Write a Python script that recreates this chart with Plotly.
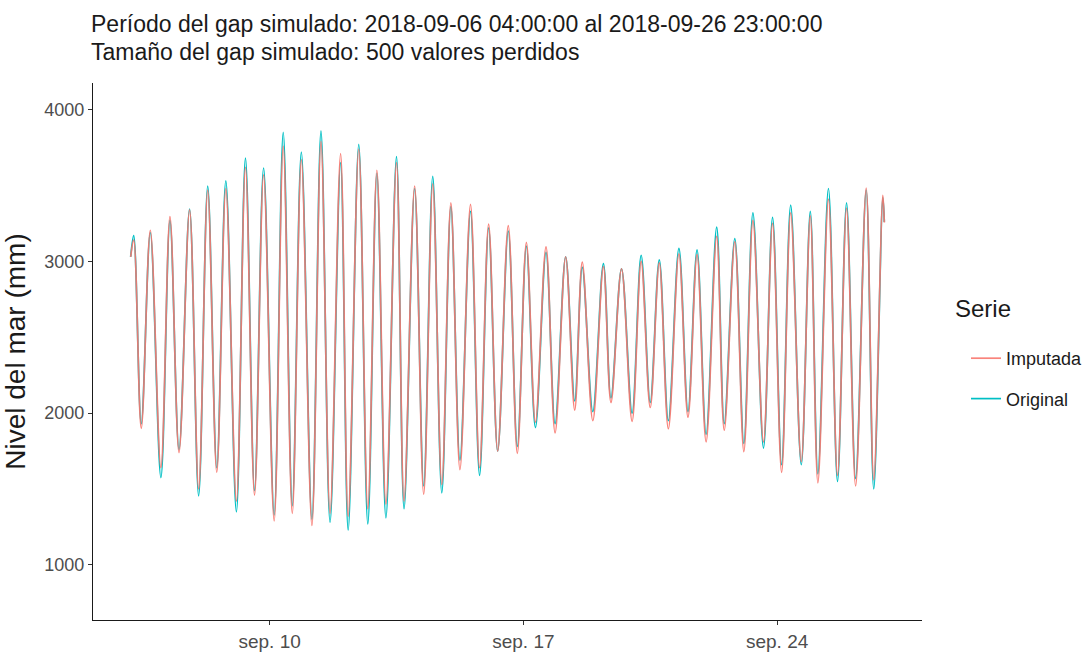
import pandas as pd
import plotly.graph_objects as go

# Hourly offsets (from 2018-09-06 04:00) of each high / low water turning point
horas = [0, 2, 7, 13, 20, 26, 32, 39, 45, 51, 57, 63, 70, 76, 82, 88, 95,
         101, 107, 113, 120, 126, 132, 139, 144, 151, 157, 163, 169, 176, 181,
         188, 194, 200, 206, 212, 218, 225, 231, 237, 243, 250, 256, 262, 268,
         275, 281, 288, 294, 299, 306, 313, 318, 325, 332, 338, 344, 350, 356,
         363, 369, 375, 381, 388, 393, 400, 406, 412, 419, 425, 431, 437, 444,
         450, 455, 462, 468, 474, 480, 487, 492, 498, 499]

# Sea level (mm) of the observed series
original = [3030, 3170, 1930, 3190, 1575, 3270, 1760, 3345, 1455, 3495, 1640,
            3530, 1350, 3680, 1490, 3615, 1330, 3850, 1390, 3720, 1300, 3860,
            1280, 3650, 1230, 3770, 1270, 3580, 1310, 3690, 1370, 3480, 1520,
            3560, 1475, 3360, 1690, 3330, 1590, 3220, 1750, 3200, 1780, 3100,
            1905, 3060, 1930, 3030, 2080, 2960, 2010, 2985, 2100, 2950, 2000,
            3040, 2070, 3010, 1950, 3085, 2010, 3075, 1860, 3225, 1930, 3150,
            1800, 3320, 1770, 3290, 1660, 3370, 1660, 3330, 1600, 3480, 1550,
            3385, 1570, 3470, 1500, 3420, 3260]

# Sea level (mm) of the imputed series
imputada = [3030, 3140, 1900, 3205, 1640, 3295, 1740, 3340, 1500, 3470, 1610,
            3480, 1420, 3620, 1460, 3570, 1290, 3760, 1340, 3670, 1260, 3790,
            1340, 3710, 1320, 3740, 1370, 3600, 1400, 3650, 1420, 3495, 1465,
            3510, 1530, 3385, 1627, 3375, 1640, 3245, 1750, 3235, 1735, 3125,
            1940, 3095, 1870, 3030, 2020, 2995, 1950, 2965, 2070, 2950, 1946,
            3000, 2037, 2990, 1897, 3050, 1973, 3045, 1811, 3165, 1887, 3130,
            1746, 3270, 1810, 3250, 1610, 3320, 1680, 3300, 1541, 3410, 1590,
            3350, 1520, 3482, 1560, 3435, 3256]

inicio = pd.Timestamp("2018-09-06 04:00:00")
fin = pd.Timestamp("2018-09-26 23:00:00")
fechas = inicio + pd.to_timedelta(horas, unit="h")

tick_fechas = ["2018-09-10", "2018-09-17", "2018-09-24"]
tick_textos = ["sep. 10", "sep. 17", "sep. 24"]

titulo_1 = "Período del gap simulado: 2018-09-06 04:00:00 al 2018-09-26 23:00:00"
titulo_2 = "Tamaño del gap simulado: 500 valores perdidos"

FONT = "Liberation Sans, Arial, sans-serif"
COL_IMP = "#F8766D"
COL_ORI = "#00BFC4"

W, H = 1090, 664
M_L, M_R, M_T, M_B = 93, 168, 83, 35
PW, PH = W - M_L - M_R, H - M_T - M_B


def px_x(x):
    return (x - M_L) / PW


def px_y(y):
    return 1 - (y - M_T) / PH


fig = go.Figure()
fig.add_trace(go.Scatter(
    x=fechas, y=original, mode="lines", name="Original",
    line=dict(color=COL_ORI, width=1.7, shape="spline"),
    legendgroup="o", legendrank=2,
))
fig.add_trace(go.Scatter(
    x=fechas, y=imputada, mode="lines", name="Imputada",
    line=dict(color=COL_IMP, width=1.7, shape="spline"), opacity=0.9,
    legendgroup="i", legendrank=1,
))

# Two-line heading, left aligned above the panel
for texto, y_top in [(titulo_1, 8), (titulo_2, 36)]:
    fig.add_annotation(
        text=texto, showarrow=False, xref="paper", yref="paper",
        x=px_x(89), xanchor="left", y=px_y(y_top), yanchor="top",
        font=dict(size=23, color="#1a1a1a", family=FONT),
    )

# Legend heading
fig.add_annotation(
    text="Serie", showarrow=False, xref="paper", yref="paper",
    x=px_x(953), xanchor="left", y=px_y(312), yanchor="middle",
    font=dict(size=24, color="#1a1a1a", family=FONT),
)

pad = (fin - inicio) * 0.05
fig.update_layout(
    width=W, height=H,
    margin=dict(l=M_L, r=M_R, t=M_T, b=M_B),
    paper_bgcolor="white", plot_bgcolor="white",
    font=dict(family=FONT, color="#1a1a1a"),
    xaxis=dict(
        range=[inicio - pad, fin + pad],
        tickvals=tick_fechas, ticktext=tick_textos,
        showgrid=False, zeroline=False,
        showline=True, linecolor="#1a1a1a", linewidth=1.3,
        ticks="outside", ticklen=4, tickcolor="#333333", tickwidth=1.1,
        tickfont=dict(size=19, color="#4d4d4d"),
    ),
    yaxis=dict(
        range=[637, 4175],
        tickvals=[1000, 2000, 3000, 4000],
        showgrid=False, zeroline=False,
        showline=True, linecolor="#1a1a1a", linewidth=1.3,
        ticks="outside", ticklen=4, tickcolor="#333333", tickwidth=1.1,
        tickfont=dict(size=18, color="#4d4d4d"),
        title=dict(text="Nivel del mar (mm)", font=dict(size=28, color="#1a1a1a"),
                   standoff=10),
    ),
    legend=dict(
        font=dict(size=18, color="#1a1a1a"),
        xref="container", yref="container",
        x=966 / W, xanchor="left", y=1 - 340 / H, yanchor="top",
        itemwidth=30, tracegroupgap=14, bgcolor="rgba(0,0,0,0)",
    ),
)

fig.write_html("out.html")
